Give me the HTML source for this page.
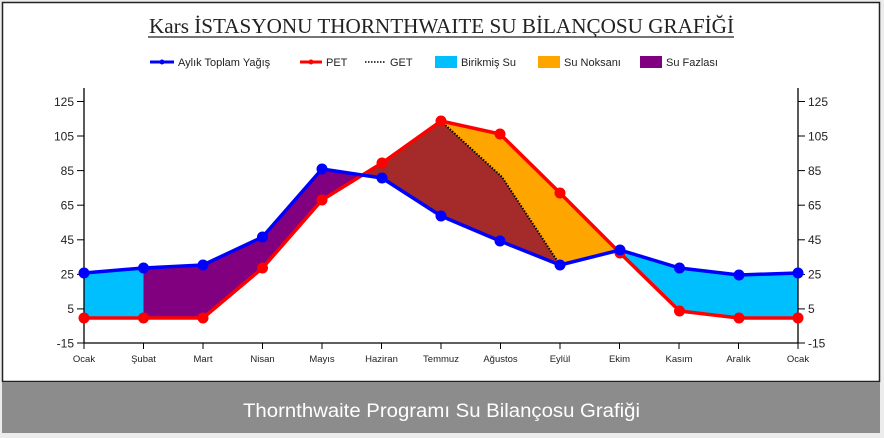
<!DOCTYPE html>
<html><head><meta charset="utf-8"><style>
html,body{margin:0;padding:0;background:#ececec;}
svg{display:block;}
</style></head><body>
<svg width="884" height="438" viewBox="0 0 884 438" xmlns="http://www.w3.org/2000/svg" font-family="Liberation Sans, sans-serif">
<rect x="0" y="0" width="884" height="438" fill="#ececec"/>
<rect x="2.5" y="2.5" width="877" height="379" fill="#fff" stroke="#222" stroke-width="1.5"/>
<rect x="2" y="382" width="878" height="51" fill="#8c8c8c"/>
<text x="243" y="417" fill="#fff" font-size="19" textLength="397" lengthAdjust="spacingAndGlyphs">Thornthwaite Programı Su Bilançosu Grafiği</text>
<text x="149" y="33" font-family="Liberation Serif, serif" font-size="21" textLength="585" lengthAdjust="spacingAndGlyphs" fill="#222">Kars İSTASYONU THORNTHWAITE SU BİLANÇOSU GRAFİĞİ</text>
<line x1="148" y1="37" x2="734" y2="37" stroke="#222" stroke-width="1.2"/>
<!-- legend -->
<g font-size="11" fill="#222">
<line x1="150" y1="62" x2="174" y2="62" stroke="#00f" stroke-width="3"/><circle cx="162" cy="62" r="2.5" fill="#00f"/>
<text x="178" y="66">Aylık Toplam Yağış</text>
<line x1="300" y1="62" x2="322" y2="62" stroke="#f00" stroke-width="3"/><circle cx="311" cy="62" r="2.5" fill="#f00"/>
<text x="326" y="66">PET</text>
<line x1="365" y1="62" x2="386" y2="62" stroke="#000" stroke-width="1.5" stroke-dasharray="1.5,1.5"/>
<text x="390" y="66">GET</text>
<rect x="435" y="56" width="22" height="12" fill="#00bfff"/>
<text x="461" y="66">Birikmiş Su</text>
<rect x="538" y="56" width="22" height="12" fill="#ffa500"/>
<text x="564" y="66">Su Noksanı</text>
<rect x="640" y="56" width="22" height="12" fill="#800080"/>
<text x="666" y="66">Su Fazlası</text>
</g>
<!-- fills -->
<polygon points="84,273 143.5,268 143.5,318 84,318" fill="#00bfff"/>
<polygon points="143.5,268 203,265 262.5,237 322,169 363,176 322,200 262.5,268 203,318 143.5,318" fill="#800080"/>
<polygon points="363,176 382,163 441,121 502,177 560,265 500,241 441,216 382,178" fill="#a52a2a"/>
<polygon points="441,121 500,134 560,193 618,251 560,265 502,177" fill="#ffa500"/>
<polygon points="618,251 620,250 679.5,268 739,275 798,273 798,318 739,318 679.5,311 620,253" fill="#00bfff"/>
<!-- axes -->
<g stroke="#000" stroke-width="1.3">
<line x1="84" y1="88" x2="84" y2="343"/>
<line x1="798" y1="88" x2="798" y2="343"/>
<line x1="84" y1="343" x2="798" y2="343"/>
</g>
<g stroke="#000" stroke-width="1">
<line x1="77" y1="101.5" x2="84" y2="101.5"/><line x1="77" y1="136" x2="84" y2="136"/><line x1="77" y1="170.6" x2="84" y2="170.6"/><line x1="77" y1="205.2" x2="84" y2="205.2"/><line x1="77" y1="239.8" x2="84" y2="239.8"/><line x1="77" y1="274.4" x2="84" y2="274.4"/><line x1="77" y1="308.9" x2="84" y2="308.9"/><line x1="77" y1="343" x2="84" y2="343"/>
<line x1="798" y1="101.5" x2="805" y2="101.5"/><line x1="798" y1="136" x2="805" y2="136"/><line x1="798" y1="170.6" x2="805" y2="170.6"/><line x1="798" y1="205.2" x2="805" y2="205.2"/><line x1="798" y1="239.8" x2="805" y2="239.8"/><line x1="798" y1="274.4" x2="805" y2="274.4"/><line x1="798" y1="308.9" x2="805" y2="308.9"/><line x1="798" y1="343" x2="805" y2="343"/>
<line x1="84" y1="343" x2="84" y2="349"/><line x1="143.5" y1="343" x2="143.5" y2="349"/><line x1="203" y1="343" x2="203" y2="349"/><line x1="262.5" y1="343" x2="262.5" y2="349"/><line x1="322" y1="343" x2="322" y2="349"/><line x1="381.5" y1="343" x2="381.5" y2="349"/><line x1="441" y1="343" x2="441" y2="349"/><line x1="500.5" y1="343" x2="500.5" y2="349"/><line x1="560" y1="343" x2="560" y2="349"/><line x1="619.5" y1="343" x2="619.5" y2="349"/><line x1="679" y1="343" x2="679" y2="349"/><line x1="738.5" y1="343" x2="738.5" y2="349"/><line x1="798" y1="343" x2="798" y2="349"/>
</g>
<g font-size="12" fill="#222" text-anchor="end">
<text x="74" y="106">125</text><text x="74" y="140.5">105</text><text x="74" y="175">85</text><text x="74" y="209.5">65</text><text x="74" y="244">45</text><text x="74" y="278.5">25</text><text x="74" y="313">5</text><text x="74" y="347.5">-15</text>
</g>
<g font-size="12" fill="#222">
<text x="808" y="106">125</text><text x="808" y="140.5">105</text><text x="808" y="175">85</text><text x="808" y="209.5">65</text><text x="808" y="244">45</text><text x="808" y="278.5">25</text><text x="808" y="313">5</text><text x="808" y="347.5">-15</text>
</g>
<g font-size="9.5" fill="#222" text-anchor="middle">
<text x="84" y="362">Ocak</text><text x="143.5" y="362">Şubat</text><text x="203" y="362">Mart</text><text x="262.5" y="362">Nisan</text><text x="322" y="362">Mayıs</text><text x="381.5" y="362">Haziran</text><text x="441" y="362">Temmuz</text><text x="500.5" y="362">Ağustos</text><text x="560" y="362">Eylül</text><text x="619.5" y="362">Ekim</text><text x="679" y="362">Kasım</text><text x="738.5" y="362">Aralık</text><text x="798" y="362">Ocak</text>
</g>
<!-- GET dotted -->
<polyline points="441,121 502,177 560,265" fill="none" stroke="#000" stroke-width="2" stroke-dasharray="1.5,1.5"/>
<!-- PET -->
<polyline points="84,318 143.5,318 203,318 262.5,268 322,200 382,163 441,121 500,134 560,193 620,253 679.5,311 739,318 798,318" fill="none" stroke="#f00" stroke-width="3.5" stroke-linejoin="round"/>
<g fill="#f00">
<circle cx="84" cy="318" r="5.5"/><circle cx="143.5" cy="318" r="5.5"/><circle cx="203" cy="318" r="5.5"/><circle cx="262.5" cy="268" r="5.5"/><circle cx="322" cy="200" r="5.5"/><circle cx="382" cy="163" r="5.5"/><circle cx="441" cy="121" r="5.5"/><circle cx="500" cy="134" r="5.5"/><circle cx="560" cy="193" r="5.5"/><circle cx="620" cy="253" r="5.5"/><circle cx="679.5" cy="311" r="5.5"/><circle cx="739" cy="318" r="5.5"/><circle cx="798" cy="318" r="5.5"/>
</g>
<!-- Precip -->
<polyline points="84,273 143.5,268 203,265 262.5,237 322,169 382,178 441,216 500,241 560,265 620,250 679.5,268 739,275 798,273" fill="none" stroke="#00f" stroke-width="3.5" stroke-linejoin="round"/>
<g fill="#00f">
<circle cx="84" cy="273" r="5.5"/><circle cx="143.5" cy="268" r="5.5"/><circle cx="203" cy="265" r="5.5"/><circle cx="262.5" cy="237" r="5.5"/><circle cx="322" cy="169" r="5.5"/><circle cx="382" cy="178" r="5.5"/><circle cx="441" cy="216" r="5.5"/><circle cx="500" cy="241" r="5.5"/><circle cx="560" cy="265" r="5.5"/><circle cx="620" cy="250" r="5.5"/><circle cx="679.5" cy="268" r="5.5"/><circle cx="739" cy="275" r="5.5"/><circle cx="798" cy="273" r="5.5"/>
</g>
</svg>
</body></html>
